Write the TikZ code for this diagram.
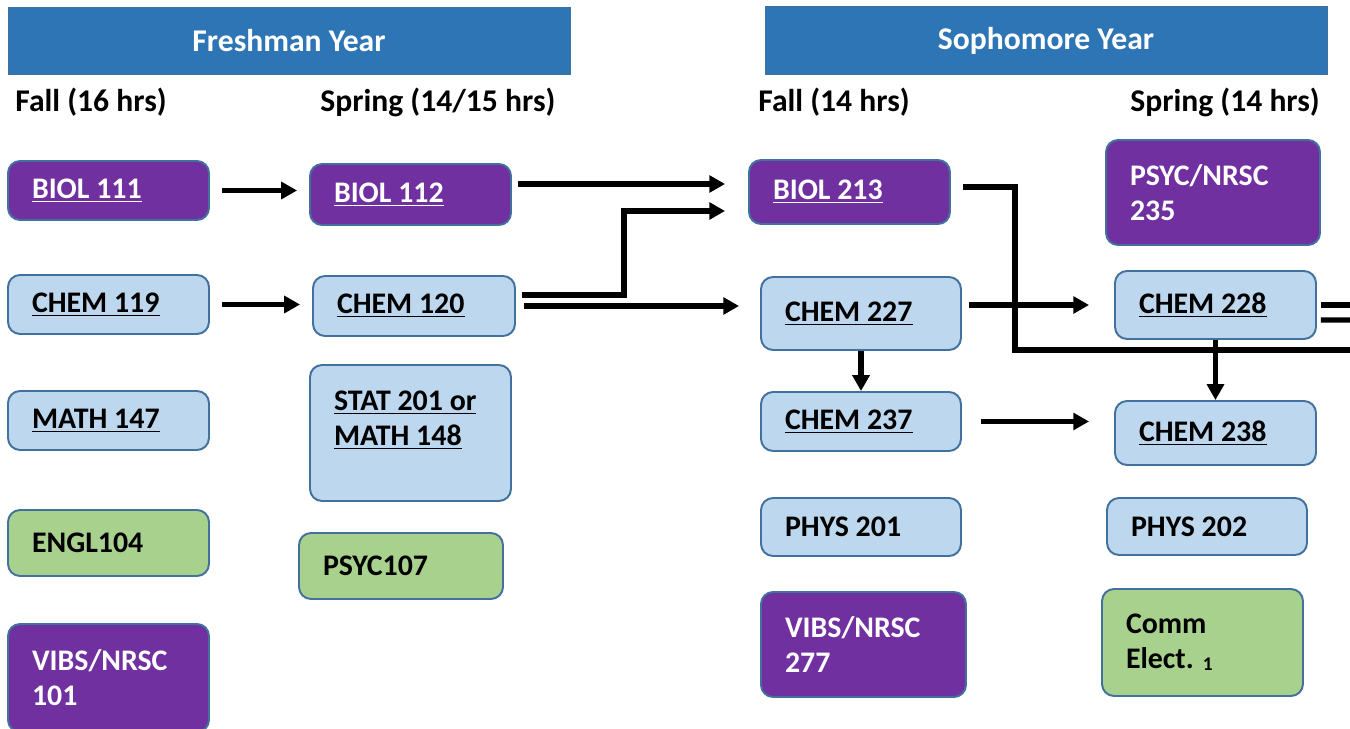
\documentclass[tikz,border=0pt]{standalone}
\usepackage{fontspec}
\setmainfont{Carlito}
\usetikzlibrary{arrows.meta,positioning,calc}
\definecolor{hdrblue}{HTML}{2E75B6}
\definecolor{crspurple}{HTML}{7030A0}
\definecolor{crsblue}{HTML}{BDD7EE}
\definecolor{crsgreen}{HTML}{A9D18E}
\definecolor{crsline}{HTML}{41719C}
\newcommand{\crsfont}{\fontsize{17}{20}\selectfont\bfseries}
\newcommand{\hdrfont}{\fontsize{18}{21}\selectfont\bfseries}
\tikzset{%
    course/.style={%
        rectangle, rounded corners=0.24cm, draw=crsline, line width=1.1pt, align=flush left, inner xsep=0.48cm, inner ysep=0pt, font=\crsfont
    },
    boxdim/.code 2 args={%
        \pgfmathsetmacro\crswidth{#1-0.96}%
        \tikzset{minimum width=#1cm, minimum height=#2cm, text width=\crswidth cm}
    },
    course_purple/.style={%
        course, fill=crspurple, text=white
    },
    course_blue/.style={%
        course, fill=crsblue
    },
    course_green/.style={%
        course, fill=crsgreen
    },
    year_header/.style={%
        rectangle, fill=hdrblue, draw=crsline, line width=0.4pt, text=white, font=\hdrfont, minimum width=11.24cm, minimum height=1.35cm
    },
    sem_label/.style={%
        anchor=west, inner sep=0pt, font=\hdrfont
    },
    flow/.style={%
        -{Triangle[length=9pt,width=9.5pt]}, line width=3pt
    },
    link/.style={%
        line width=3pt
    },
}
\begin{document}
\begin{tikzpicture}[x=0.02cm, y=-0.02cm]

    \useasboundingbox (0,0) rectangle (1350,729);

    % year headers and semesters
    \node[year_header] (freshman) at (289,41) {Freshman Year};
    \node[year_header] (sophomore) at (1046,40.5) {Sophomore Year};
    \node[sem_label] (fall1) at (15,102) {Fall (16 hrs)};
    \node[sem_label] (spring1) at (320,102) {Spring (14/15 hrs)};
    \node[sem_label] (fall2) at (758,102) {Fall (14 hrs)};
    \node[sem_label] (spring2) at (1130,102) {Spring (14 hrs)};

    % freshman fall
    \node[course_purple, boxdim={4.02}{1.18}] (biol111) at (108.5,190.5) {\underline{BIOL 111}};
    \node[course_blue, boxdim={4.02}{1.18}] (chem119) at (108.5,304.5) {\underline{CHEM 119}};
    \node[course_blue, boxdim={4.02}{1.18}] (math147) at (108.5,420.5) {\underline{MATH 147}};
    \node[course_green, boxdim={4.02}{1.32}] (engl104) at (108.5,543) {ENGL104};
    \node[course_purple, boxdim={4.02}{2.16}] (vibs101) at (108.5,678) {VIBS/NRSC\\101};

    % freshman spring
    \node[course_purple, boxdim={4.02}{1.22}] (biol112) at (410.5,194.5) {\underline{BIOL 112}};
    \node[course_blue, boxdim={4.04}{1.2}] (chem120) at (414,306) {\underline{CHEM 120}};
    \node[course_blue, boxdim={4.02}{2.72}] (stat201) at (410.5,433) {\underline{STAT 201 or}\\\underline{MATH 148}\\[-3pt]\mbox{}};
    \node[course_green, boxdim={4.08}{1.32}] (psyc107) at (401,566) {PSYC107};

    % sophomore fall
    \node[course_purple, boxdim={4.02}{1.28}] (biol213) at (849.5,192) {\underline{BIOL 213}};
    \node[course_blue, boxdim={4.0}{1.46}] (chem227) at (861,313.5) {\underline{CHEM 227}};
    \node[course_blue, boxdim={4.0}{1.18}] (chem237) at (861,421.5) {\underline{CHEM 237}};
    \node[course_blue, boxdim={4.0}{1.16}] (phys201) at (861,527) {PHYS 201};
    \node[course_purple, boxdim={4.1}{2.1}] (vibs277) at (863.5,644.5) {VIBS/NRSC\\277};

    % sophomore spring
    \node[course_purple, boxdim={4.28}{2.1}] (psyc235) at (1213,192.5) {PSYC/NRSC\\235};
    \node[course_blue, boxdim={4.02}{1.36}] (chem228) at (1215.5,305) {\underline{CHEM 228}};
    \node[course_blue, boxdim={4.02}{1.28}] (chem238) at (1215.5,433) {\underline{CHEM 238}};
    \node[course_blue, boxdim={4.0}{1.14}] (phys202) at (1207,526.5) {PHYS 202};
    \node[course_green, boxdim={4.02}{2.14}] (commelect) at (1202.5,642.5) {Comm\\Elect. \raisebox{-1pt}{\fontsize{11}{11}\selectfont 1}};

    % off page ends
    \coordinate (out1) at (1352,350);
    \coordinate (out2) at (1352,305);
    \coordinate (out3) at (1352,320);

    % prerequisites
    \draw[flow, shorten <=0.24cm, shorten >=0.24cm] (biol111.east) -- (biol111.east -| biol112.west);
    \draw[flow, shorten <=0.24cm, shorten >=0.24cm] (chem119.east) -- (chem119.east -| chem120.west);
    \draw[flow, shorten <=0.12cm, shorten >=0.46cm] ([yshift=0.21cm]biol112.east) -- ([yshift=0.21cm]biol112.east -| biol213.west);
    \draw[flow, shorten <=0.12cm, shorten >=0.46cm] ([yshift=0.22cm]chem120.east) -- ++(108,0) |- ([yshift=-0.38cm]biol213.west);
    \draw[flow, shorten <=0.16cm, shorten >=0.42cm] (chem120.east) -- (chem120.east -| chem227.west);
    \draw[flow] (chem227.south) -- (chem237.north);
    \draw[flow, shorten <=0.14cm, shorten >=0.5cm] (chem228.west -| chem227.east) -- (chem228.west);
    \draw[flow, shorten <=0.38cm, shorten >=0.5cm] (chem237.east) -- (chem237.east -| chem238.west);
    \draw[link, shorten <=0.24cm] ([yshift=0.1cm]biol213.east) -- ++(64,0) |- (out1);
    \draw[flow] (chem228.south) -- (chem238.north);
    \draw[link, shorten <=0.08cm] (chem228.east) -- (out2);
    \draw[link, shorten <=0.08cm] ([yshift=-0.3cm]chem228.east) -- (out3);

\end{tikzpicture}
\end{document}
